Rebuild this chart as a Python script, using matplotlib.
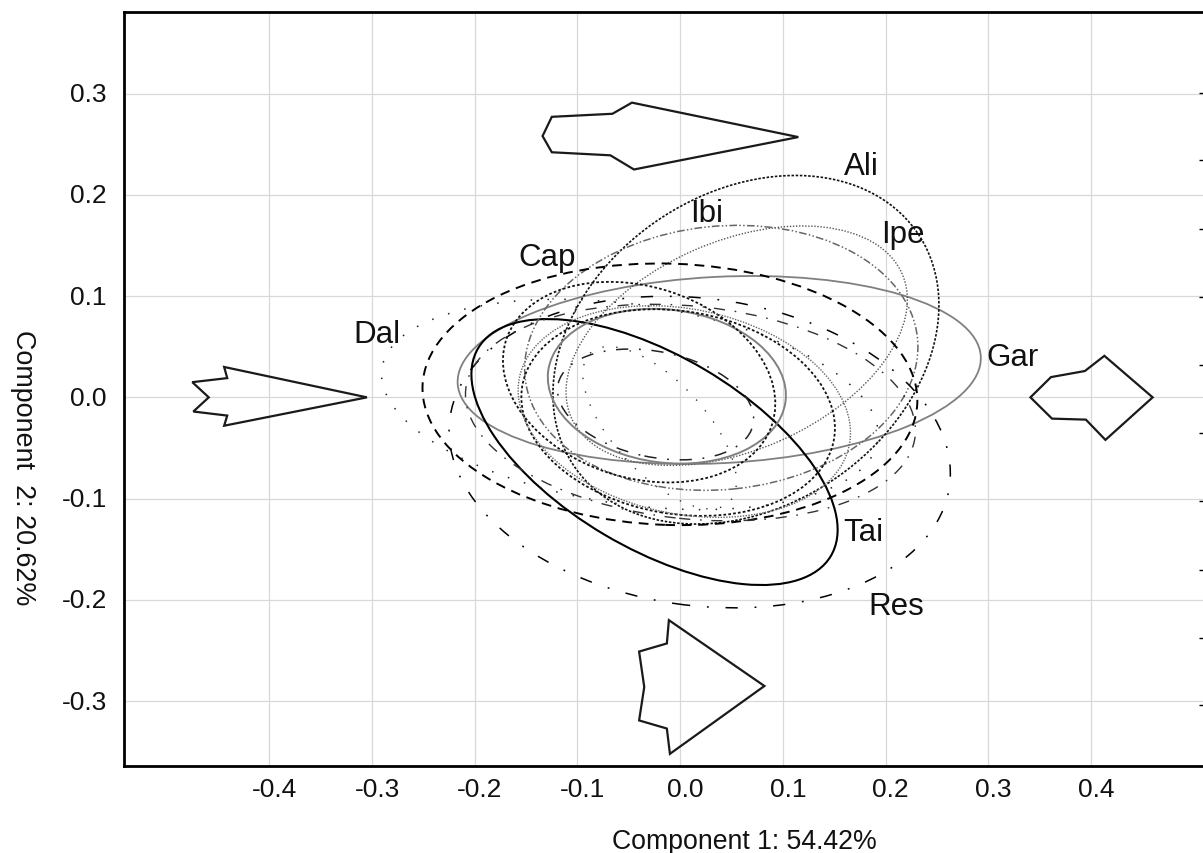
import matplotlib
matplotlib.use('Agg')
import matplotlib.pyplot as plt
from matplotlib.patches import Ellipse
from matplotlib.transforms import ScaledTranslation

plt.rcParams['font.family'] = ['Liberation Sans', 'DejaVu Sans']

# ellipses, semi axes in data units
cx = [0.038, -0.025, 0.064, 0.055, 0.040, -0.010, 0.019, -0.049, -0.013, -0.040, -0.002, -0.024, 0.010, -0.020, 0.004]
cy = [0.027, -0.054, 0.047, 0.051, 0.039, 0.003, -0.054, -0.007, 0.011, 0.015, -0.015, -0.007, -0.015, -0.030, -0.014]
semi_a = [0.255, 0.200, 0.203, 0.176, 0.192, 0.241, 0.2455, 0.244, 0.1165, 0.136, 0.154, 0.097, 0.220, 0.100, 0.164]
semi_b = [0.092, 0.095, 0.154, 0.103, 0.130, 0.129, 0.1515, 0.0986, 0.0755, 0.0943, 0.100, 0.052, 0.105, 0.045, 0.101]
angles = [3, -31, 35.5, 24, 6, -2, -8, -8.4, -7.6, -18, -10, -12, -6, -48, -12]

colors = ['#808080', '#000000', '#111111', '#555555', '#666666', '#000000', '#000000', '#222222',
          '#808080', '#111111', '#111111', '#222222', '#333333', '#333333', '#666666']
widths = [1.3, 1.5, 1.2, 1.0, 1.1, 1.4, 1.1, 1.1, 1.4, 1.3, 1.3, 1.1, 1.0, 1.0, 1.0]
styles = ['-', '-', (0, (1.5, 1)), (0, (1, 1.2)), (0, (5, 1.5, 1, 1.5, 1, 1.5)), (0, (5, 3.5)),
          (0, (8, 11, 1.2, 11)), (0, (1, 10)), '-', (0, (1.5, 1.2)), (0, (1.5, 1.2)),
          (0, (8, 7, 1.2, 7)), (0, (8, 7, 1.2, 7)), (0, (1, 9)), (0, (1, 1))]

# star plot outlines
top_x = [-0.125, -0.066, -0.047, 0.115, -0.045, -0.068, -0.125, -0.134]
top_y = [0.277, 0.280, 0.291, 0.257, 0.225, 0.239, 0.242, 0.258]
left_x = [-0.475, -0.441, -0.444, -0.305, -0.444, -0.441, -0.474, -0.459]
left_y = [0.015, 0.019, 0.030, 0.0, -0.028, -0.018, -0.014, 0.0]
right_x = [0.341, 0.361, 0.394, 0.413, 0.460, 0.414, 0.395, 0.362]
right_y = [0.0, 0.020, 0.026, 0.041, 0.0, -0.042, -0.022, -0.021]
bottom_x = [-0.011, 0.082, -0.010, -0.013, -0.040, -0.035, -0.040, -0.013]
bottom_y = [-0.220, -0.285, -0.352, -0.327, -0.319, -0.286, -0.251, -0.243]

labels = ['Ali', 'Ibi', 'Ipe', 'Cap', 'Dal', 'Gar', 'Tai', 'Res']
label_x = [0.159, 0.010, 0.196, -0.158, -0.318, 0.298, 0.159, 0.183]
label_y = [0.221, 0.174, 0.153, 0.131, 0.055, 0.032, -0.141, -0.214]

xticks = [-0.4, -0.3, -0.2, -0.1, 0.0, 0.1, 0.2, 0.3, 0.4]
yticks = [-0.3, -0.2, -0.1, 0.0, 0.1, 0.2, 0.3]
right_ticks = [0.301, 0.234, 0.166, 0.099, 0.032, -0.035, -0.102, -0.170, -0.238, -0.304]

W, H = 1203, 854
fig = plt.figure(figsize=(W / 100, H / 100), dpi=100)
ax = fig.add_axes([123.5 / W, 1 - 767 / H, (W - 123.5) / W, (767 - 13) / H])
ax.set_xlim(-0.542, 0.509)
ax.set_ylim(-0.364, 0.3805)

ax.set_xticks(xticks)
ax.set_yticks(yticks)
ax.set_xticklabels(['%.1f' % v for v in xticks])
ax.set_yticklabels(['%.1f' % v for v in yticks])
ax.tick_params(axis='x', length=0, pad=8, labelsize=19, labelcolor='#111111')
ax.tick_params(axis='y', length=0, pad=12, labelsize=19, labelcolor='#111111')
ax.grid(True, color='#d8d8d8', lw=0.9)
ax.set_axisbelow(True)

# tick labels sit a bit right of / above their grid lines in the original
for t in ax.get_xticklabels():
    t.set_transform(t.get_transform() + ScaledTranslation(5 / 100, 0, fig.dpi_scale_trans))
for t in ax.get_yticklabels():
    t.set_transform(t.get_transform() + ScaledTranslation(0, 2 / 100, fig.dpi_scale_trans))

for s in ['left', 'bottom', 'top']:
    ax.spines[s].set_linewidth(2)
ax.spines['right'].set_visible(False)

# little marks cut off at the right edge
rax = ax.twinx()
rax.set_ylim(ax.get_ylim())
rax.set_yticks(right_ticks)
rax.tick_params(axis='y', direction='in', length=3, width=1, labelright=False)
for s in rax.spines.values():
    s.set_visible(False)

for i in range(len(cx)):
    e = Ellipse((cx[i], cy[i]), 2 * semi_a[i], 2 * semi_b[i], angle=angles[i], fill=False,
                edgecolor=colors[i], lw=widths[i], linestyle=styles[i])
    ax.add_patch(e)

for xs, ys in [(top_x, top_y), (left_x, left_y), (right_x, right_y), (bottom_x, bottom_y)]:
    ax.fill(xs, ys, facecolor='none', edgecolor='#1a1a1a', lw=1.6, joinstyle='miter')

for i in range(len(labels)):
    ax.text(label_x[i], label_y[i], labels[i], fontsize=22.5, color='#111111', ha='left', va='baseline')

fig.text(744 / W, 1 - 842 / H, 'Component 1: 54.42%', fontsize=19.2, color='#111111', ha='center', va='center')
fig.text(23 / W, 1 - 467.5 / H, 'Component  2: 20.62%', fontsize=19.4, color='#111111', rotation=-90, ha='center', va='center')

fig.savefig('out.png', dpi=100)
